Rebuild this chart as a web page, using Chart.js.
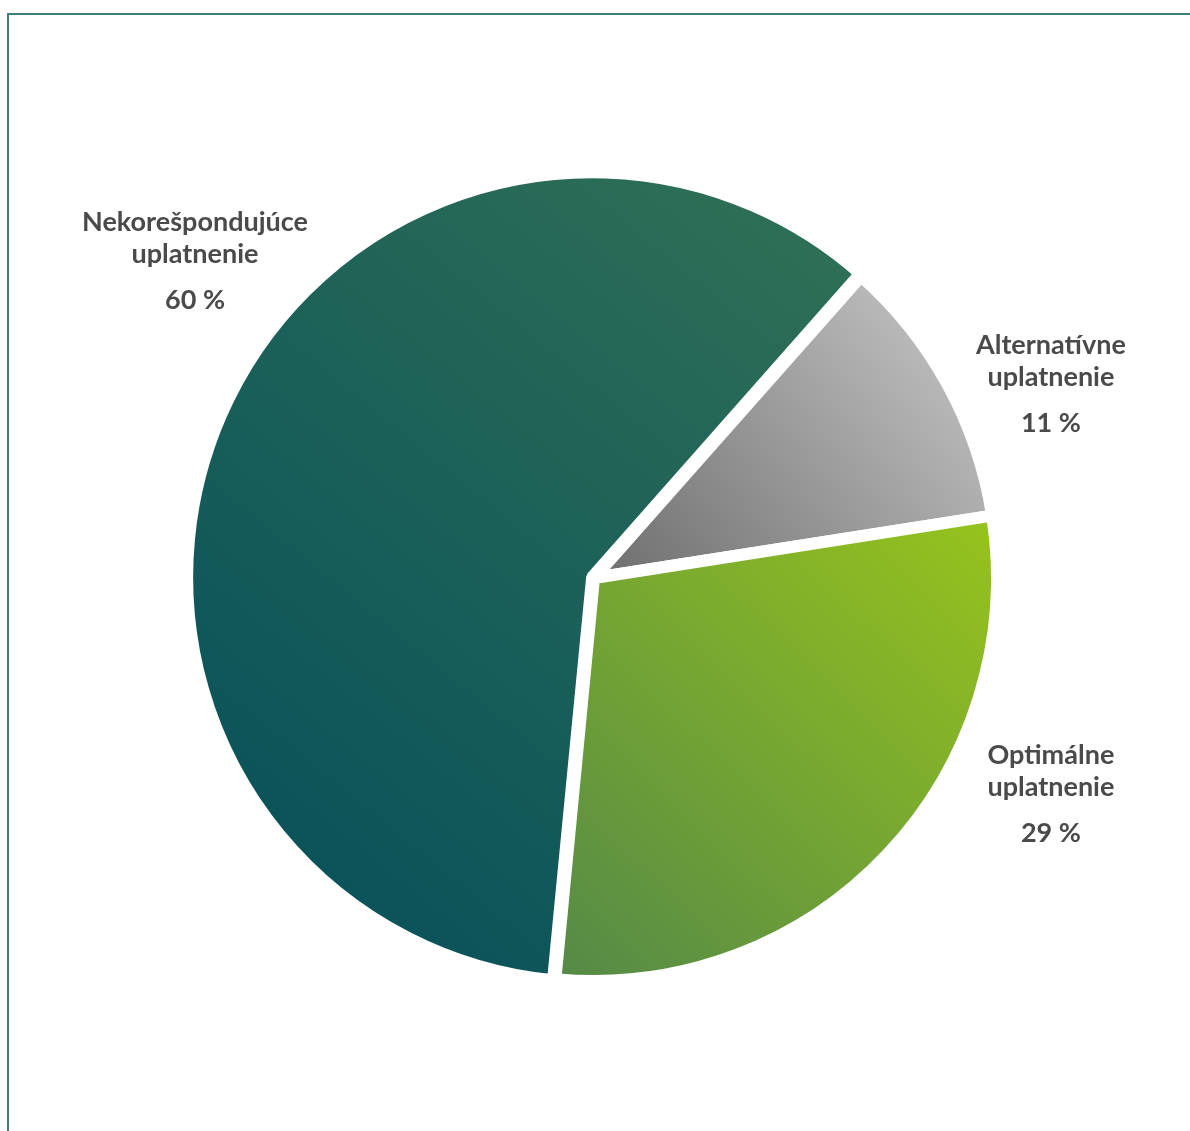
<!DOCTYPE html>
<html>
<head>
<meta charset="utf-8">
<script src="https://cdn.jsdelivr.net/npm/chart.js@4/dist/chart.umd.min.js"></script>
<style>
  html, body { margin: 0; padding: 0; background: #fff; overflow: hidden; }
  #frame { position: absolute; left: 7px; top: 13px; width: 1300px; height: 1300px;
    border-top: 2px solid #3f7f80; border-left: 2px solid #3f7f80; }
  #myChart { position: absolute; left: 0; top: 0; }
</style>
</head>
<body>
<div id="frame"></div>
<canvas id="myChart" width="1190" height="1131"></canvas>
<script>
'use strict';
// data
let categories=[['Alternatívne','uplatnenie'],['Optimálne','uplatnenie'],['Nekorešpondujúce','uplatnenie']];
let shares=[11,29,60];
let shareLabels=['11 %','29 %','60 %'];

// gradient stops per slice: [x0,y0,color0,x1,y1,color1] in units of radius from the centre
let grads=[
  [0.05,0.05,'#6e6e6e',0.9,-0.65,'#c3c3c3'],
  [-0.1,1.0,'#538848',1.0,-0.15,'#98c41c'],
  [-0.75,0.75,'#09525a',0.6,-0.9,'#307056']
];
// where each label block sits, relative to centre (units of radius)
let labelPos=[[1.148,-0.585],[1.148,0.445],[-1.0025,-0.894]];

function sliceColor(context){
  let chart=context.chart;
  let area=chart.chartArea;
  if(!area){
    return '#888';
  }
  let g=grads[context.dataIndex];
  let cx=(area.left+area.right)/2;
  let cy=(area.top+area.bottom)/2;
  let r=Math.min(area.width,area.height)/2;
  let grad=chart.ctx.createLinearGradient(cx+g[0]*r,cy+g[1]*r,cx+g[3]*r,cy+g[4]*r);
  grad.addColorStop(0,g[2]);
  grad.addColorStop(1,g[5]);
  return grad;
}

let labelPlugin={
  id:'sliceLabels',
  afterDraw(chart){
    let ctx=chart.ctx;
    let area=chart.chartArea;
    let cx=(area.left+area.right)/2;
    let cy=(area.top+area.bottom)/2;
    let r=398;
    ctx.save();
    ctx.fillStyle='#4a4a4a';
    ctx.textAlign='center';
    ctx.textBaseline='middle';
    ctx.font='bold 27px Lato';
    for(let i=0;i<categories.length;i++){
      let x=cx+labelPos[i][0]*r;
      let y=cy+labelPos[i][1]*r;
      ctx.fillText(categories[i][0],x,y);
      ctx.fillText(categories[i][1],x,y+32);
      ctx.fillText(shareLabels[i],x,y+78);
    }
    ctx.restore();
  }
};

new Chart(document.getElementById('myChart'), {
  type: 'pie',
  data: {
    labels: categories.map(c=>c.join(' ')),
    datasets: [{
      data: shares,
      backgroundColor: sliceColor,
      borderColor: '#ffffff',
      borderWidth: 12,
      offset: [0,0,8]
    }]
  },
  options: {
    responsive: false,
    animation: false,
    rotation: 41.5,
    layout: { padding: { left: 181, right: 183, top: 165, bottom: 140 } },
    plugins: {
      legend: { display: false },
      tooltip: { enabled: false }
    }
  },
  plugins: [labelPlugin]
});
</script>
</body>
</html>
